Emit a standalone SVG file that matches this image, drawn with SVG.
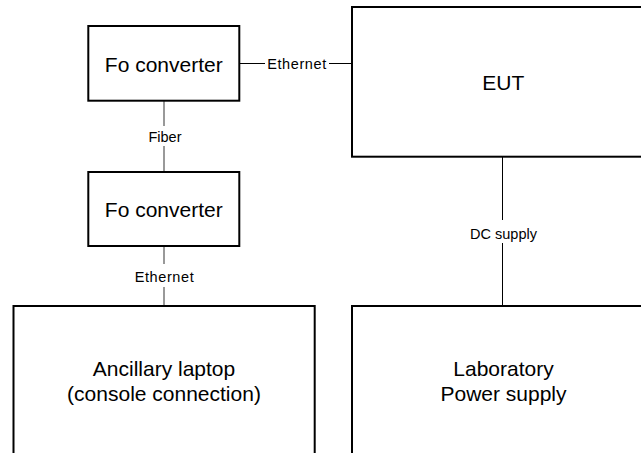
<svg xmlns="http://www.w3.org/2000/svg" width="641" height="453" viewBox="0 0 641 453">
<style>
.box{fill:#fff;stroke:#000;stroke-width:2}
.t{font-family:"Liberation Sans",Arial,sans-serif;fill:#000;text-anchor:middle}
.big{font-size:21px}
.lbl{font-size:14.5px}
.w{stroke:#000;stroke-width:1;fill:none}
.g{stroke:#777;stroke-width:1.5;fill:none}
</style>
<rect width="641" height="453" fill="#fff"/>
<g id="connectors">
<line class="w" x1="239" y1="63.5" x2="265" y2="63.5"/>
<line class="w" x1="329" y1="63.5" x2="352" y2="63.5"/>
<text class="t lbl" x="297" y="69" letter-spacing="0.6">Ethernet</text>
<line class="g" x1="164" y1="101" x2="164" y2="126"/>
<line class="g" x1="164" y1="146" x2="164" y2="172"/>
<text class="t lbl" x="165" y="142">Fiber</text>
<line class="g" x1="164" y1="246" x2="164" y2="264"/>
<line class="g" x1="164" y1="287" x2="164" y2="306"/>
<text class="t lbl" x="164.5" y="281.5" letter-spacing="0.6">Ethernet</text>
<line class="w" x1="502.5" y1="157" x2="502.5" y2="220"/>
<line class="w" x1="502.5" y1="243" x2="502.5" y2="306"/>
<text class="t lbl" x="503.5" y="239" font-size="15.5">DC supply</text>
</g>
<g id="fo1">
<rect class="box" x="88.3" y="26" width="151" height="74.7"/>
<text class="t big" x="163.8" y="71.5">Fo converter</text>
</g>
<g id="fo2">
<rect class="box" x="88.3" y="172" width="151" height="74"/>
<text class="t big" x="163.8" y="217.3">Fo converter</text>
</g>
<g id="eut">
<rect class="box" x="352" y="7" width="300" height="149.7"/>
<text class="t big" x="503.3" y="90">EUT</text>
</g>
<g id="laptop">
<rect class="box" x="13.5" y="306" width="301.2" height="160"/>
<text class="t big" x="164" y="376">Ancillary laptop</text>
<text class="t big" x="164" y="401">(console connection)</text>
</g>
<g id="psu">
<rect class="box" x="352" y="306" width="300" height="160"/>
<text class="t big" x="503.5" y="376">Laboratory</text>
<text class="t big" x="503.5" y="401">Power supply</text>
</g>
</svg>
